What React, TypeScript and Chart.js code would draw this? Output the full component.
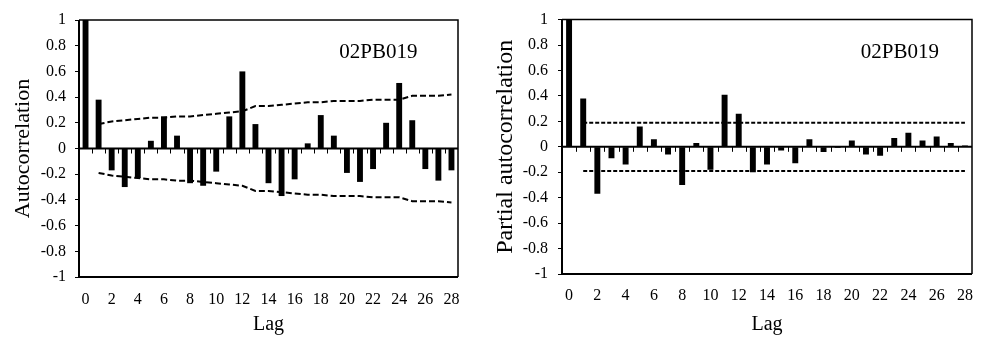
import React, { useEffect, useRef } from 'react';
import { Chart, registerables } from 'chart.js';

Chart.register(...registerables);

// ---------- data ----------
const lags = ['0', '1', '2', '3', '4', '5', '6', '7', '8', '9', '10', '11', '12', '13', '14', '15', '16', '17', '18', '19', '20', '21', '22', '23', '24', '25', '26', '27', '28'];
const xTickLabels = ['0', '2', '4', '6', '8', '10', '12', '14', '16', '18', '20', '22', '24', '26', '28'];

const acfValues = [1.0, 0.38, -0.17, -0.3, -0.23, 0.06, 0.25, 0.1, -0.27, -0.29, -0.18, 0.25, 0.6, 0.19, -0.27, -0.37, -0.24, 0.04, 0.26, 0.1, -0.19, -0.26, -0.16, 0.2, 0.51, 0.22, -0.16, -0.25, -0.17];
const acfUpper = [null, 0.19, 0.21, 0.22, 0.23, 0.24, 0.24, 0.25, 0.25, 0.26, 0.27, 0.28, 0.29, 0.33, 0.33, 0.34, 0.35, 0.36, 0.36, 0.37, 0.37, 0.37, 0.38, 0.38, 0.38, 0.41, 0.41, 0.41, 0.42];
const acfLower = [null, -0.19, -0.21, -0.22, -0.23, -0.24, -0.24, -0.25, -0.25, -0.26, -0.27, -0.28, -0.29, -0.33, -0.33, -0.34, -0.35, -0.36, -0.36, -0.37, -0.37, -0.37, -0.38, -0.38, -0.38, -0.41, -0.41, -0.41, -0.42];

const pacfValues = [1.0, 0.38, -0.37, -0.09, -0.14, 0.16, 0.06, -0.06, -0.3, 0.03, -0.18, 0.41, 0.26, -0.2, -0.14, -0.03, -0.13, 0.06, -0.04, -0.01, 0.05, -0.06, -0.07, 0.07, 0.11, 0.05, 0.08, 0.03, 0.01];
const pacfUpper = [null, 0.19, 0.19, 0.19, 0.19, 0.19, 0.19, 0.19, 0.19, 0.19, 0.19, 0.19, 0.19, 0.19, 0.19, 0.19, 0.19, 0.19, 0.19, 0.19, 0.19, 0.19, 0.19, 0.19, 0.19, 0.19, 0.19, 0.19, 0.19];
const pacfLower = [null, -0.19, -0.19, -0.19, -0.19, -0.19, -0.19, -0.19, -0.19, -0.19, -0.19, -0.19, -0.19, -0.19, -0.19, -0.19, -0.19, -0.19, -0.19, -0.19, -0.19, -0.19, -0.19, -0.19, -0.19, -0.19, -0.19, -0.19, -0.19];

const stationLabel = '02PB019';
const FONT = "'Liberation Serif', 'Times New Roman', serif";

// ---------- plugin: frame, zero axis with tick marks, station label ----------
const framePlugin = {
  id: 'acfFrame',
  afterDatasetsDraw(chart: any, _args: any, opts: any) {
    const { ctx, chartArea: a, scales } = chart;
    const x = scales.x;
    const y = scales.y;
    ctx.save();
    ctx.strokeStyle = '#000';
    // zero line
    const y0 = y.getPixelForValue(0);
    ctx.lineWidth = 2;
    ctx.beginPath();
    ctx.moveTo(a.left, y0);
    ctx.lineTo(a.right, y0);
    ctx.stroke();
    // tick marks at category boundaries
    ctx.lineWidth = 1;
    const n = chart.data.labels.length;
    for (let i = 0; i < n - 1; i++) {
      const bx = Math.round((x.getPixelForValue(i) + x.getPixelForValue(i + 1)) / 2) + 0.5;
      ctx.beginPath();
      ctx.moveTo(bx, y0);
      ctx.lineTo(bx, y0 + opts.tickLen);
      ctx.stroke();
    }
    // frame: top/right thinner, left/bottom thicker
    ctx.lineWidth = 1.5;
    ctx.beginPath();
    ctx.moveTo(a.left, a.top);
    ctx.lineTo(a.right, a.top);
    ctx.lineTo(a.right, a.bottom);
    ctx.stroke();
    ctx.lineWidth = 2;
    ctx.beginPath();
    ctx.moveTo(a.left, a.top);
    ctx.lineTo(a.left, a.bottom);
    ctx.lineTo(a.right, a.bottom);
    ctx.stroke();
    // station label
    ctx.fillStyle = '#000';
    ctx.font = `${opts.labelSize}px ${FONT}`;
    ctx.textAlign = 'center';
    ctx.textBaseline = 'middle';
    ctx.fillText(opts.text, a.left + (a.right - a.left) * opts.fx, a.top + (a.bottom - a.top) * opts.fy);
    ctx.restore();
  },
};

type Cfg = {
  values: number[];
  upper: (number | null)[];
  lower: (number | null)[];
  yTitle: string;
  yTitleSize: number;
  yTitlePad: number;
  yAxisWidth: number;
  xAxisHeight: number;
  padTop: number;
  padRight: number;
  yTickPad: number;
  xTickPad: number;
  barPct: number;
  dash: number[];
  fx: number;
  fy: number;
};

function makeChart(canvas: HTMLCanvasElement, c: Cfg) {
  return new Chart(canvas, {
    type: 'bar',
    data: {
      labels: lags,
      datasets: [
        {
          type: 'line',
          data: c.upper as any,
          borderColor: '#000',
          borderWidth: 2,
          borderDash: c.dash,
          pointRadius: 0,
          fill: false,
          tension: 0,
          order: 1,
        } as any,
        {
          type: 'line',
          data: c.lower as any,
          borderColor: '#000',
          borderWidth: 2,
          borderDash: c.dash,
          pointRadius: 0,
          fill: false,
          tension: 0,
          order: 1,
        } as any,
        {
          type: 'bar',
          data: c.values,
          backgroundColor: '#000',
          borderWidth: 0,
          barPercentage: c.barPct,
          categoryPercentage: 1,
          order: 2,
        } as any,
      ],
    },
    options: {
      responsive: false,
      animation: false,
      devicePixelRatio: 1,
      layout: { padding: { top: c.padTop, right: c.padRight, left: 0, bottom: 0 } },
      plugins: {
        legend: { display: false },
        tooltip: { enabled: false },
        acfFrame: { tickLen: 5, text: stationLabel, labelSize: 21, fx: c.fx, fy: c.fy },
      } as any,
      scales: {
        x: {
          type: 'category',
          offset: true,
          grid: { display: false, drawTicks: false },
          border: { display: false },
          ticks: {
            autoSkip: false,
            maxRotation: 0,
            padding: c.xTickPad,
            color: '#000',
            font: { family: FONT, size: 16 },
            callback: (_v: any, i: number) => (xTickLabels.includes(lags[i]) ? lags[i] : ''),
          },
          title: {
            display: true,
            text: 'Lag',
            color: '#000',
            font: { family: FONT, size: 20, lineHeight: 1 },
            padding: { top: 0, bottom: 9 },
          },
          afterFit: (s: any) => {
            s.height = c.xAxisHeight;
          },
        },
        y: {
          min: -1,
          max: 1,
          grid: {
            display: true,
            drawOnChartArea: false,
            drawTicks: true,
            tickLength: 4,
            color: '#000',
            lineWidth: 1,
          },
          border: { display: false },
          ticks: {
            stepSize: 0.2,
            padding: c.yTickPad,
            color: '#000',
            font: { family: FONT, size: 16 },
            callback: (v: any) => String(Number(Number(v).toFixed(1))),
          },
          title: {
            display: true,
            text: c.yTitle,
            color: '#000',
            font: { family: FONT, size: c.yTitleSize, lineHeight: 1 },
            padding: { top: c.yTitlePad, bottom: 0 },
          },
          afterFit: (s: any) => {
            s.width = c.yAxisWidth;
          },
        },
      },
    } as any,
    plugins: [framePlugin as any],
  });
}

export default function App() {
  const leftRef = useRef<HTMLCanvasElement>(null);
  const rightRef = useRef<HTMLCanvasElement>(null);

  useEffect(() => {
    const left = makeChart(leftRef.current!, {
      values: acfValues,
      upper: acfUpper,
      lower: acfLower,
      yTitle: 'Autocorrelation',
      yTitleSize: 22,
      yTitlePad: 12,
      yAxisWidth: 79,
      xAxisHeight: 67,
      padTop: 20,
      padRight: 36,
      yTickPad: 9,
      xTickPad: 13,
      barPct: 0.45,
      dash: [6, 3],
      fx: 0.79,
      fy: 0.125,
    });
    const right = makeChart(rightRef.current!, {
      values: pacfValues,
      upper: pacfUpper,
      lower: pacfLower,
      yTitle: 'Partial autocorrelation',
      yTitleSize: 24,
      yTitlePad: 0,
      yAxisWidth: 68,
      xAxisHeight: 70,
      padTop: 16,
      padRight: 16,
      yTickPad: 10,
      xTickPad: 12,
      barPct: 0.42,
      dash: [4, 2],
      fx: 0.824,
      fy: 0.13,
    });
    return () => {
      left.destroy();
      right.destroy();
    };
  }, []);

  return (
    <div style={{ position: 'absolute', left: 0, top: 0, width: 988, height: 344, background: '#fff' }}>
      <canvas ref={leftRef} width={494} height={344} style={{ position: 'absolute', left: 0, top: 0 }} />
      <canvas ref={rightRef} width={494} height={344} style={{ position: 'absolute', left: 494, top: 0 }} />
    </div>
  );
}
